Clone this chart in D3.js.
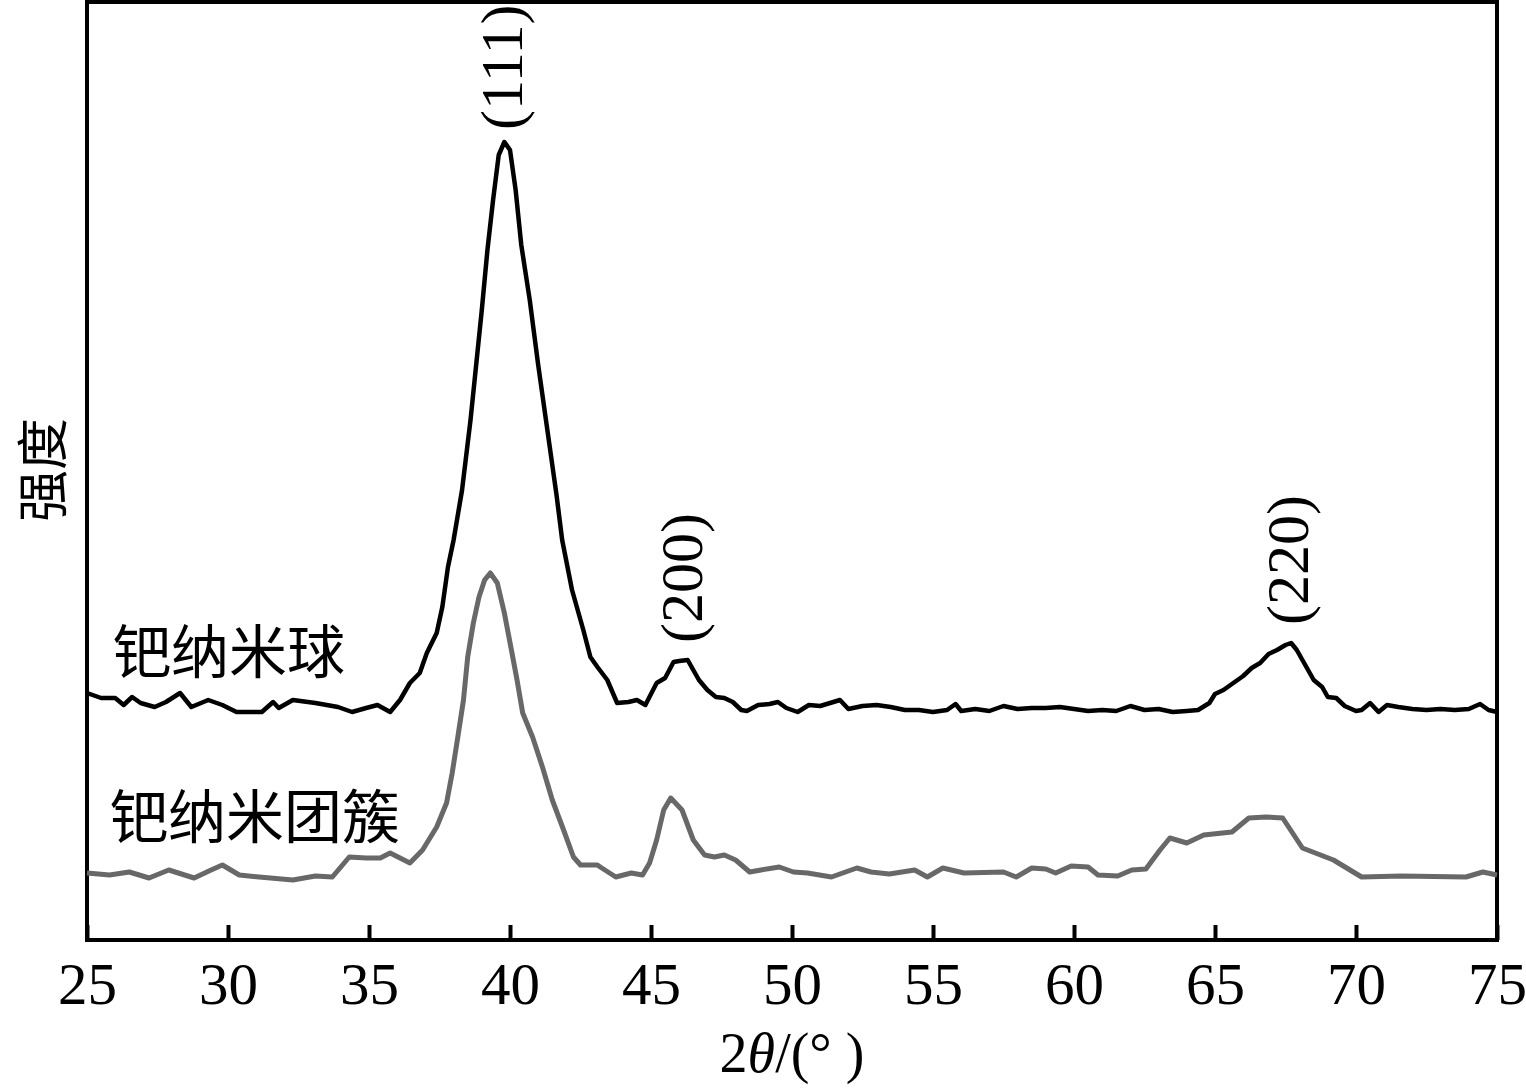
<!DOCTYPE html>
<html>
<head>
<meta charset="utf-8">
<script src="https://cdn.jsdelivr.net/npm/d3@7"></script>
<style>
  body { margin: 0; background: #fff; }
  svg { display: block; }
  .serif { font-family: "Liberation Serif", "Times New Roman", serif; }
  .cjk { font-family: "Noto Sans CJK SC", sans-serif; }
</style>
</head>
<body>
<svg id="chart" width="1526" height="1089"></svg>
<script>
// XRD patterns, 2theta (deg) vs intensity (a.u.)
var sphereData = [
  [25.0, 24.7], [25.5, 24.2], [26.0, 24.2], [26.3, 23.5], [26.6, 24.3], [26.9, 23.7],
  [27.4, 23.3], [27.8, 23.8], [28.3, 24.7], [28.7, 23.3], [29.3, 24.0], [29.8, 23.5],
  [30.3, 22.8], [30.8, 22.8], [31.2, 22.8], [31.6, 23.8], [31.8, 23.2], [32.3, 24.0],
  [33.1, 23.7], [33.9, 23.3], [34.4, 22.8], [34.9, 23.2], [35.3, 23.5], [35.75, 22.8],
  [36.1, 24.0], [36.45, 25.7], [36.8, 26.7], [37.05, 28.7], [37.4, 30.7], [37.6, 33.3],
  [37.8, 37.3], [38.0, 40.0], [38.3, 45.0], [38.6, 52.0], [39.0, 63.0], [39.2, 69.0],
  [39.4, 74.0], [39.6, 78.5], [39.8, 79.8], [40.0, 79.0], [40.2, 75.0], [40.4, 69.5],
  [40.7, 64.0], [41.0, 57.5], [41.3, 51.5], [41.65, 44.5], [41.85, 40.0], [42.2, 35.0],
  [42.6, 31.0], [42.85, 28.3], [43.1, 27.3], [43.45, 26.0], [43.8, 23.7], [44.2, 23.8],
  [44.5, 24.0], [44.8, 23.5], [45.2, 25.7], [45.5, 26.2], [45.8, 27.8], [46.0, 27.9],
  [46.3, 28.0], [46.5, 27.0], [46.7, 26.0], [47.0, 25.0], [47.3, 24.3], [47.6, 24.2],
  [47.9, 23.8], [48.2, 23.0], [48.4, 22.9], [48.8, 23.5], [49.2, 23.6], [49.5, 23.8],
  [49.8, 23.2], [50.2, 22.8], [50.6, 23.5], [51.0, 23.4], [51.7, 24.0], [52.0, 23.1],
  [52.5, 23.4], [53.0, 23.5], [53.5, 23.3], [54.0, 23.0], [54.5, 23.0], [55.0, 22.8],
  [55.5, 23.0], [55.8, 23.6], [56.0, 22.9], [56.5, 23.1], [57.0, 22.9], [57.5, 23.4],
  [58.0, 23.1], [58.5, 23.2], [59.0, 23.2], [59.5, 23.3], [60.0, 23.1], [60.5, 22.9],
  [61.0, 23.0], [61.5, 22.9], [62.0, 23.4], [62.5, 23.0], [63.0, 23.1], [63.5, 22.8],
  [64.0, 22.9], [64.4, 23.0], [64.8, 23.7], [65.0, 24.6], [65.3, 25.0], [65.6, 25.6],
  [66.0, 26.4], [66.3, 27.2], [66.6, 27.7], [66.9, 28.6], [67.2, 29.0], [67.5, 29.5],
  [67.7, 29.7], [67.9, 29.0], [68.2, 27.5], [68.5, 26.0], [68.8, 25.3], [69.0, 24.3],
  [69.3, 24.2], [69.6, 23.4], [70.0, 22.9], [70.2, 23.0], [70.5, 23.7], [70.8, 22.8],
  [71.1, 23.5], [71.5, 23.3], [72.0, 23.1], [72.5, 23.0], [73.0, 23.1], [73.5, 23.0],
  [74.0, 23.1], [74.4, 23.6], [74.7, 23.0], [75.0, 22.8]
];

var clusterData = [
  [25.0, 6.7], [25.8, 6.5], [26.5, 6.8], [27.2, 6.2], [27.9, 7.0], [28.8, 6.2],
  [29.4, 7.0], [29.8, 7.5], [30.4, 6.5], [31.1, 6.3], [32.3, 6.0], [33.1, 6.4],
  [33.7, 6.3], [34.3, 8.3], [34.9, 8.2], [35.4, 8.2], [35.75, 8.7], [36.45, 7.7],
  [36.9, 9.0], [37.4, 11.3], [37.75, 13.7], [37.95, 16.7], [38.15, 20.3], [38.35, 24.0],
  [38.5, 28.3], [38.7, 31.7], [38.9, 34.3], [39.1, 36.0], [39.3, 36.7], [39.55, 35.7],
  [39.8, 32.7], [40.05, 29.0], [40.25, 26.0], [40.45, 22.7], [40.8, 20.3], [41.15, 17.3],
  [41.5, 14.0], [41.9, 11.0], [42.25, 8.3], [42.5, 7.5], [43.1, 7.5], [43.2, 7.3],
  [43.75, 6.3], [44.3, 6.7], [44.7, 6.5], [44.95, 7.7], [45.2, 10.0], [45.45, 13.0],
  [45.7, 14.2], [46.1, 13.0], [46.5, 10.0], [46.9, 8.5], [47.25, 8.3], [47.6, 8.5],
  [48.0, 8.0], [48.5, 6.8], [48.9, 7.0], [49.55, 7.3], [50.05, 6.8], [50.55, 6.7],
  [51.4, 6.3], [52.3, 7.2], [52.8, 6.8], [53.45, 6.6], [54.35, 7.0], [54.8, 6.3],
  [55.35, 7.2], [56.1, 6.7], [57.5, 6.8], [57.95, 6.3], [58.5, 7.2], [59.0, 7.1],
  [59.35, 6.7], [59.9, 7.4], [60.5, 7.3], [60.85, 6.5], [61.55, 6.4], [62.05, 7.0],
  [62.55, 7.1], [63.05, 9.0], [63.4, 10.2], [64.0, 9.7], [64.6, 10.5], [65.6, 10.8],
  [66.2, 12.2], [66.8, 12.3], [67.4, 12.2], [68.1, 9.2], [69.2, 8.0], [70.2, 6.3],
  [71.6, 6.4], [73.9, 6.3], [74.5, 6.8], [75.0, 6.5]
];

var xTicks = [25, 30, 35, 40, 45, 50, 55, 60, 65, 70, 75];

// reflection labels: [text, 2theta, intensity at label bottom]
var peakLabels = [
  ["(111)", 39.7, 81.0],
  ["(200)", 46.1, 29.7],
  ["(220)", 67.6, 31.5]
];

var seriesNames = ["钯纳米球", "钯纳米团簇"];

var svg = d3.select("#chart"),
    width = +svg.attr("width"),
    height = +svg.attr("height");

var margin = { top: 2, right: 29, bottom: 149, left: 87 };

var x = d3.scaleLinear()
  .domain([25, 75])
  .range([margin.left, width - margin.right]);

var y = d3.scaleLinear()
  .domain([0, 93.8])
  .range([height - margin.bottom, margin.top]);

var line = d3.line()
  .x(function (d) { return x(d[0]); })
  .y(function (d) { return y(d[1]); });

// frame
svg.append("rect")
  .attr("x", x(25))
  .attr("y", y(93.8))
  .attr("width", x(75) - x(25))
  .attr("height", y(0) - y(93.8))
  .attr("fill", "none")
  .attr("stroke", "#000")
  .attr("stroke-width", 4);

// bottom axis with inward ticks
var xAxis = svg.append("g")
  .attr("transform", "translate(0," + y(0) + ")")
  .call(d3.axisBottom(x)
    .tickValues(xTicks)
    .tickSizeInner(-15)
    .tickSizeOuter(0)
    .tickFormat(d3.format("d")));

xAxis.select(".domain").remove();
xAxis.selectAll(".tick line")
  .attr("stroke", "#000")
  .attr("stroke-width", 4);
xAxis.selectAll(".tick text")
  .attr("class", "serif")
  .attr("y", 64)
  .attr("dy", 0)
  .attr("font-size", 59)
  .attr("fill", "#000");

// curves
svg.append("path")
  .datum(clusterData)
  .attr("d", line)
  .attr("fill", "none")
  .attr("stroke", "#686868")
  .attr("stroke-width", 5)
  .attr("stroke-linejoin", "round");

svg.append("path")
  .datum(sphereData)
  .attr("d", line)
  .attr("fill", "none")
  .attr("stroke", "#000")
  .attr("stroke-width", 4.5)
  .attr("stroke-linejoin", "round");

// peak labels, rotated
svg.selectAll(".peak")
  .data(peakLabels)
  .enter().append("text")
    .attr("class", "peak serif")
    .attr("transform", function (d) {
      return "translate(" + x(d[1]) + "," + y(d[2]) + ") rotate(-90)";
    })
    .attr("dominant-baseline", "central")
    .attr("font-size", 60)
    .text(function (d) { return d[0]; });

// series labels
svg.append("text")
  .attr("class", "cjk")
  .attr("x", 113)
  .attr("y", 673)
  .attr("font-size", 58)
  .text(seriesNames[0]);

svg.append("text")
  .attr("class", "cjk")
  .attr("x", 110)
  .attr("y", 838)
  .attr("font-size", 58)
  .text(seriesNames[1]);

// axis titles
var xTitle = svg.append("text")
  .attr("class", "serif")
  .attr("x", (x(25) + x(75)) / 2)
  .attr("y", 1072)
  .attr("text-anchor", "middle")
  .attr("font-size", 56);
xTitle.append("tspan").text("2");
xTitle.append("tspan").attr("font-style", "italic").text("θ");
xTitle.append("tspan").text("/(° )");

svg.append("text")
  .attr("class", "cjk")
  .attr("transform", "translate(62,470) rotate(-90)")
  .attr("text-anchor", "middle")
  .attr("font-size", 52)
  .text("强度");
</script>
</body>
</html>
